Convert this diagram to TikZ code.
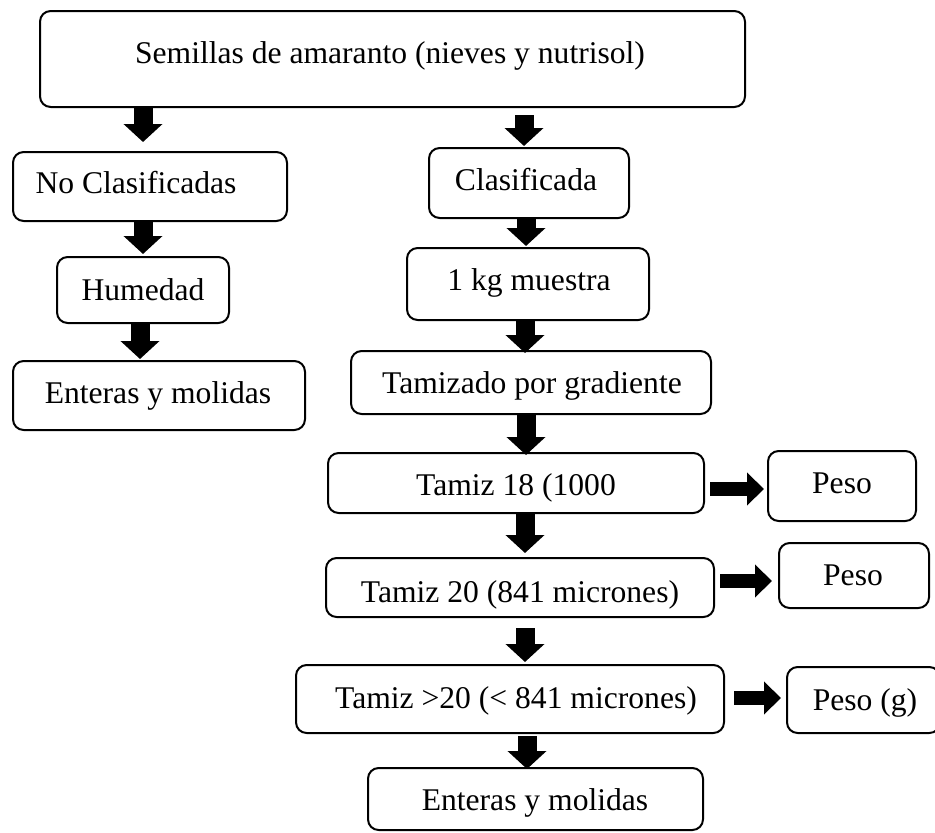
\documentclass[tikz,border=0pt]{standalone}
\usepackage{fontspec}
\setmainfont{Liberation Serif}
\usetikzlibrary{arrows.meta}
\tikzset{
  box/.style={draw=black, line width=1.5pt, rounded corners=8pt, inner sep=0pt, fill=white},
  lbl/.style={anchor=base, inner sep=0pt, font=\fontsize{23.7}{28}\selectfont},
  darr/.style={draw=black, line width=14.25pt, line cap=butt, -{Triangle[width=28.5pt, length=13.5pt]}},
  rarr/.style={draw=black, line width=10.5pt, line cap=butt, -{Triangle[width=24pt, length=12.75pt]}}
}
% name, x1, y1, x2, y2, text x, text baseline, text
\newcommand\mybox[8]{%
  \node[box, minimum width={(#4-#2)*0.75pt}, minimum height={(#5-#3)*0.75pt}] (#1) at ({(#2+#4)/2},{(#3+#5)/2}) {};
  \node[lbl] (#1t) at (#6,#7) {#8};%
}
\begin{document}
\begin{tikzpicture}[x=0.75pt,y=-0.75pt]
\useasboundingbox (0,0) rectangle (935,832);
\mybox{top}{40}{11}{745}{107}{390}{63}{Semillas de amaranto (nieves y nutrisol)}
\mybox{nc}{13}{152}{287}{221}{136}{193}{No Clasificadas}
\mybox{cl}{429}{148}{629}{218}{526}{190}{Clasificada}
\mybox{hu}{57}{257}{229}{323}{143}{300}{Humedad}
\mybox{enl}{13}{361}{305}{430}{158}{403}{Enteras y molidas}
\mybox{kg}{407}{248}{649}{320}{529}{290}{1 kg muestra}
\mybox{tz}{351}{351}{711}{414}{532}{393}{Tamizado por gradiente}
\mybox{tA}{328}{453}{704}{513}{516}{495}{Tamiz 18 (1000}
\mybox{pA}{768}{451}{916}{521}{842}{493}{Peso}
\mybox{tB}{326}{558}{714}{617}{520}{602}{Tamiz 20 (841 micrones)}
\mybox{pB}{779}{543}{929}{608}{853}{585}{Peso}
\mybox{tC}{296}{665}{724}{733}{516}{708}{Tamiz >20 (< 841 micrones)}
\mybox{pC}{787}{667}{940}{733}{865}{710}{Peso (g)}
\mybox{enb}{368}{768}{703}{830}{535}{810}{Enteras y molidas}

% down arrows
\draw[darr, shorten <=-0.75pt, shorten >=6.75pt] (top.south -| 143,0) -- (nc.north -| 143,0);
\draw[darr, shorten <=5.25pt, shorten >=0.75pt] (top.south -| 524,0) -- (cl.north -| 524,0);
\draw[darr, shorten >=0.75pt] (cl.south -| 526,0) -- (kg.north -| 526,0);
\draw[darr, shorten >=1.5pt] (nc.south -| 143,0) -- (hu.north -| 143,0);
\draw[darr, shorten >=0.75pt] (hu.south -| 140,0) -- (enl.north -| 140,0);
\draw[darr, shorten >=-2.25pt] (kg.south -| 525,0) -- (tz.north -| 525,0);
\draw[darr, shorten >=-2.25pt] (tz.south -| 526,0) -- (tA.north -| 526,0);
\draw[darr, shorten >=3pt] (tA.south -| 525,0) -- (tB.north -| 525,0);
\draw[darr, shorten <=7.5pt, shorten >=1.5pt] (tB.south -| 525,0) -- (tC.north -| 525,0);
\draw[darr, shorten <=1.5pt, shorten >=-1.5pt] (tC.south -| 527,0) -- (enb.north -| 527,0);

% right arrows
\draw[rarr, shorten <=3.75pt, shorten >=2.25pt] (tA.east |- 0,489) -- (pA.west |- 0,489);
\draw[rarr, shorten <=3.75pt, shorten >=4.5pt] (tB.east |- 0,581) -- (pB.west |- 0,581);
\draw[rarr, shorten <=6.75pt, shorten >=3.75pt] (tC.east |- 0,698) -- (pC.west |- 0,698);
\end{tikzpicture}
\end{document}
